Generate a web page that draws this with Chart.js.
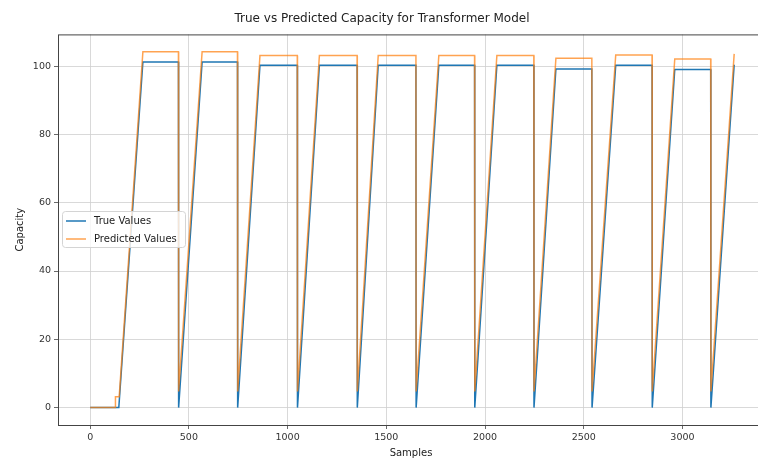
<!DOCTYPE html>
<html>
<head>
<meta charset="utf-8">
<script src="https://cdn.jsdelivr.net/npm/chart.js@4.4.1/dist/chart.umd.min.js"></script>
<style>
html,body{margin:0;padding:0;background:#fff;overflow:hidden;}
#wrap{position:absolute;left:0;top:0;width:775px;height:459px;}
</style>
</head>
<body>
<div id="wrap"><canvas id="c" width="775" height="459"></canvas></div>
<script>
// vertices (sample index, capacity)
const trueX=[0,145,
  267,447,448, 567,746,747, 860,1049,1050, 1161,1352,1353, 1459,1650,1651,
  1766,1947,1948, 2060,2247,2248, 2359,2541,2542, 2662,2846,2847, 2961,3143,3144,
  3262];
const trueY=[0,0,
  101.2,101.2,0, 101.2,101.2,0, 100.3,100.3,0, 100.3,100.3,0, 100.3,100.3,0,
  100.3,100.3,0, 100.3,100.3,0, 99.2,99.2,0, 100.3,100.3,0, 99.0,99.0,0,
  100.4];
const predX=[0,127,128,147,
  267,447,448, 567,746,747, 860,1049,1050, 1161,1352,1353, 1459,1650,1651,
  1766,1947,1948, 2060,2247,2248, 2359,2541,2542, 2662,2846,2847, 2961,3143,3144,
  3262];
const predY=[0,0,3.2,3.2,
  104.2,104.2,4.7, 104.2,104.2,4.7, 103.1,103.1,4.7, 103.1,103.1,4.7, 103.1,103.1,4.7,
  103.1,103.1,4.7, 103.1,103.1,4.7, 102.3,102.3,4.7, 103.3,103.3,4.7, 102.1,102.1,4.7,
  103.6];
const xTicks=[0,500,1000,1500,2000,2500,3000];
const yTicks=[0,20,40,60,80,100];

const FONT='"DejaVu Sans", sans-serif';
function pts(xs,ys){return xs.map((x,i)=>({x:x,y:ys[i]}));}

const frame={
  id:'frame',
  afterDraw(chart){
    const a=chart.chartArea, ctx=chart.ctx;
    ctx.save();
    ctx.strokeStyle='#444'; ctx.lineWidth=1;
    ctx.strokeRect(a.left+0.5,a.top+0.5,a.right-a.left,a.bottom-a.top);
    // legend box
    const lx=62, ly=211, lw=123, lh=36;
    ctx.fillStyle='rgba(255,255,255,0.8)';
    ctx.strokeStyle='#d4d4d4';
    ctx.beginPath(); ctx.roundRect(lx+0.5,ly+0.5,lw,lh,3); ctx.fill(); ctx.stroke();
    ctx.font='10px '+FONT; ctx.textBaseline='middle'; ctx.fillStyle='#222';
    chart.data.datasets.forEach((d,i)=>{
      const y=ly+10+i*18;
      ctx.strokeStyle=d.borderColor; ctx.lineWidth=1.5;
      ctx.beginPath(); ctx.moveTo(66,y); ctx.lineTo(86,y); ctx.stroke();
      ctx.fillText(d.label,94,y);
    });
    ctx.restore();
  }
};

new Chart(document.getElementById('c'),{
  type:'line',
  data:{datasets:[
    {label:'True Values',data:pts(trueX,trueY),borderColor:'#1f77b4',borderWidth:1.5,pointRadius:0,tension:0,order:1},
    {label:'Predicted Values',data:pts(predX,predY),borderColor:'rgba(255,127,14,0.72)',borderWidth:1.5,pointRadius:0,tension:0,order:0}
  ]},
  options:{
    responsive:false,animation:false,
    layout:{padding:{left:0,right:11,top:0,bottom:0}},
    plugins:{
      legend:{display:false},tooltip:{enabled:false},
      title:{display:true,text:'True vs Predicted Capacity for Transformer Model',color:'#222',
        font:{family:FONT,size:12,weight:'normal'},padding:{top:12,bottom:8}}
    },
    scales:{
      x:{type:'linear',min:-163,max:3413,
        afterBuildTicks:s=>{s.ticks=xTicks.map(v=>({value:v}));},
        afterFit:s=>{s.height=34;},
        border:{display:false},
        grid:{color:'#cfcfcf',lineWidth:0.8,tickLength:4,tickColor:'#444'},
        ticks:{color:'#333',font:{family:FONT,size:9.5},padding:3,maxRotation:0,callback:v=>String(v)},
        title:{display:true,text:'Samples',color:'#222',font:{family:FONT,size:10},padding:{top:0,bottom:0}}
      },
      y:{min:-5.1,max:109.3,
        afterBuildTicks:s=>{s.ticks=yTicks.map(v=>({value:v}));},
        afterFit:s=>{s.width=58;},
        border:{display:false},
        grid:{color:'#cfcfcf',lineWidth:0.8,tickLength:4,tickColor:'#444'},
        ticks:{color:'#333',font:{family:FONT,size:9.5},padding:3,callback:v=>String(v)},
        title:{display:true,text:'Capacity',color:'#222',font:{family:FONT,size:10},padding:{top:14,bottom:0}}
      }
    }
  },
  plugins:[frame]
});
</script>
</body>
</html>
